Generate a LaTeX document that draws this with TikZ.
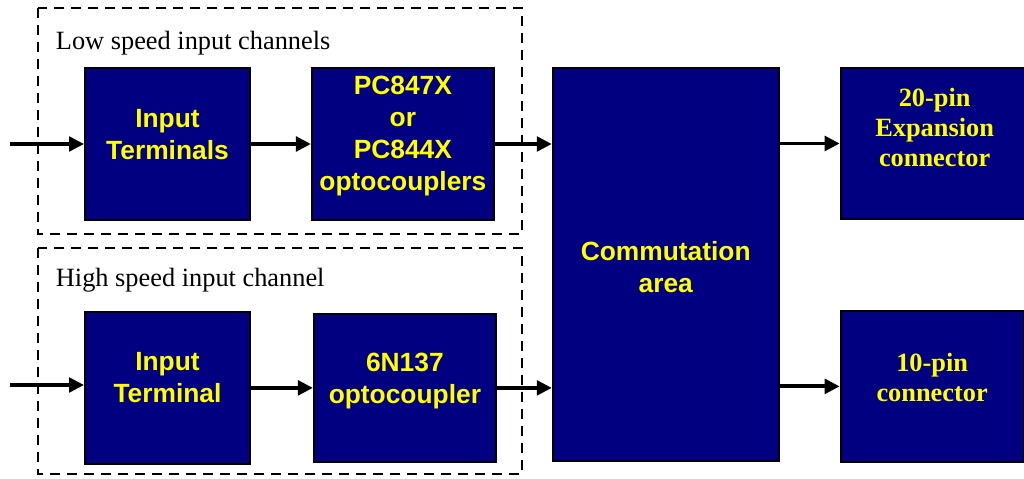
\documentclass[tikz,border=0pt]{standalone}
\usepackage{fontspec}
\setmainfont{Liberation Serif}
\setsansfont{Liberation Sans}
\usetikzlibrary{arrows.meta,positioning}

\definecolor{boxblue}{RGB}{0,0,128}
\definecolor{txtyellow}{RGB}{255,255,0}

\begin{document}
\begin{tikzpicture}[
      x = 0.02cm, y = -0.02cm,
      > = {Triangle[length=0.3cm,width=0.29cm]},
      line width = 2.2pt]
      \tikzset{
      blk/.style = {
      draw = black,
      line width = 1.1pt,
      fill = boxblue,
      inner sep = 0pt},
      btxt/.style = {
      text = txtyellow,
      align = center,
      font = \sffamily\bfseries\fontsize{15}{18.2}\selectfont},
      ctxt/.style = {
      text = txtyellow,
      align = center,
      font = \rmfamily\bfseries\fontsize{15}{17}\selectfont},
      grp/.style = {
      draw = black,
      line width = 1.1pt,
      dash pattern = on 0.2cm off 0.14cm},
      grplbl/.style = {
      anchor = base west,
      inner sep = 0pt,
      font = \rmfamily\fontsize{15}{17}\selectfont}}

      \useasboundingbox (0,0) rectangle (1024,479);

      % channel frames
      \draw[grp] (38,8) rectangle (522,234);
      \draw[grp] (38,248) rectangle (522,474);
      \node[grplbl] (lowlbl) at (54,50) {Low speed input channels};
      \node[grplbl] (highlbl) at (54,287) {High speed input channel};

      % blocks
      \node[blk, minimum width=3.3cm, minimum height=3.04cm,
      label={[btxt, yshift=0.18cm]center:Input\\Terminals}] (in1) at (167.5,144) {};
      \node[blk, minimum width=3.64cm, minimum height=3.04cm,
      label={[btxt, yshift=0.16cm]center:PC847X\\or\\PC844X\\optocouplers}] (opt1) [right=1.2cm of in1] {};
      \node[blk, minimum width=3.3cm, minimum height=3.04cm,
      label={[btxt, yshift=0.2cm]center:Input\\Terminal}] (in2) [below=1.8cm of in1] {};
      \node[blk, minimum width=3.64cm, minimum height=2.96cm,
      label={[btxt, yshift=0.14cm]center:6N137\\optocoupler}] (opt2) [right=1.24cm of in2] {};
      \node[blk, minimum width=4.52cm, minimum height=7.86cm,
      label={[btxt, yshift=-0.05cm]center:Commutation\\area}] (comm) [right=1.14cm of opt1.north east, anchor=north west] {};
      \node[blk, minimum width=3.76cm, minimum height=3.02cm,
      label={[ctxt, yshift=0.32cm]center:20-pin\\Expansion\\connector}] (con20) [right=1.2cm of comm.north east, anchor=north west] {};
      \node[blk, minimum width=3.66cm, minimum height=3.02cm,
      label={[ctxt, yshift=0.18cm]center:10-pin\\connector}] (con10) [below=1.8cm of con20.south west, anchor=north west] {};

      \coordinate (src1) at (10,144);
      \coordinate (src2) at (10,385);

      % signal flow
      \draw[->] (src1) -- (in1);
      \draw[->] (in1) -- (opt1);
      \draw[->] (opt1) -- (opt1 -| comm.west);
      \draw[->] (comm.east |- con20) -- (con20);
      \draw[->] (src2) -- (src2 -| in2.west);
      \draw[->] (in2) -- (opt2);
      \draw[->] (opt2) -- (opt2 -| comm.west);
      \draw[->] (comm.east |- con10) -- (con10);
\end{tikzpicture}
\end{document}
